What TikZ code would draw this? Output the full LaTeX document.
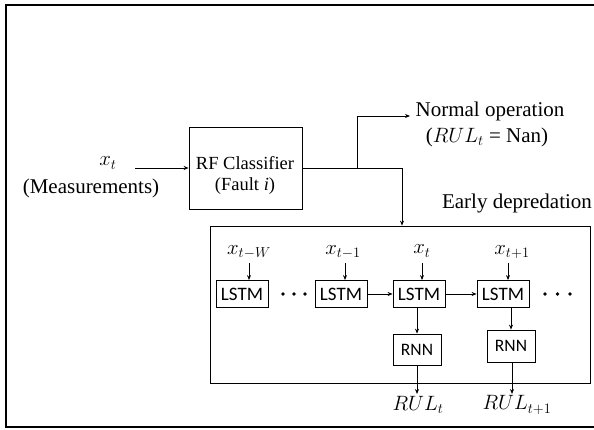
\documentclass[tikz,border=0pt]{standalone}
\usepackage{fontspec}
\setmainfont{Liberation Serif}
\newfontfamily\calib{Carlito}
\usetikzlibrary{arrows.meta}
\begin{document}
\begin{tikzpicture}[x=1pt,y=-1pt,
  lbl/.style={font=\fontsize{21}{24}\selectfont, inner sep=0pt},
  rft/.style={font=\fontsize{18.5}{21}\selectfont, inner sep=0pt},
  mlbl/.style={font=\fontsize{22}{24}\selectfont, inner sep=0pt},
  box/.style={draw, line width=0.8pt, inner sep=0pt},
  lstm/.style={box, minimum height=27pt, minimum width=52pt, font=\calib\fontsize{19}{20}\selectfont},
  rnn/.style={box, minimum width=48pt, font=\calib\fontsize{17.5}{18}\selectfont},
  conn/.style={line width=0.8pt, -{Stealth[length=5pt,width=4pt]}},
  line/.style={line width=0.8pt},
  dot/.style={fill, circle, inner sep=0pt, minimum size=3.6pt}
]
\useasboundingbox (0,0) rectangle (594,430);
% frame
\draw[line width=1.2pt] (594,5) -- (6,5) -- (6,427) -- (594,427);

% input
\node[mlbl] (xt) at (108,163) {$x_t$};
\node[lbl] (meas) at (91,188) {(Measurements)};
\coordinate (in) at (135,168);

% RF classifier
\node[box, minimum width=113pt, minimum height=82pt] (rf) at (245.5,168) {};
\node[rft] (rft1) at (245,163) {RF Classifier};
\node[rft] (rft2) at (245,186) {(Fault \textit{i})};
\draw[conn] (in) -- (rf.west |- in);

% branches
\coordinate (j1) at (357,168);
\coordinate (j2) at (402,168);
\coordinate (no) at (410,116);
\draw[line] (rf.east |- j1) -- (j2);
\draw[conn] (j1) |- (no);

\node[lbl] (norm) at (490,111) {Normal operation};
\node[lbl] (nan) at (487,137) {($RUL_t$ = Nan)};
\node[lbl] (early) at (517,203) {Early depredation};

% inner box
\node[box, minimum width=380pt, minimum height=157pt] (inner) at (400,304.5) {};
\draw[conn] (j2) -- (j2 |- inner.north);

% LSTM row
\node[lstm] (l1) at (242,294) {LSTM};
\node[lstm] (l2) at (341,294) {LSTM};
\node[lstm] (l3) at (419,294) {LSTM};
\node[lstm] (l4) at (503,294) {LSTM};

\node[dot] (d1) at (283,294) {};
\node[dot] (d2) at (294,294) {};
\node[dot] (d3) at (305,294) {};
\node[dot] (d4) at (545,294) {};
\node[dot] (d5) at (557.5,294) {};
\node[dot] (d6) at (570,294) {};

\draw[conn] (l2) -- (l3);
\draw[conn] (l3) -- (l4);

% inputs
\node[mlbl] (x1) at (249,252) {$x_{t-W}$};
\node[mlbl] (x2) at (343,252) {$x_{t-1}$};
\node[mlbl] (x3) at (422,251) {$x_{t}$};
\node[mlbl] (x4) at (512,252) {$x_{t+1}$};
\coordinate (a1) at (249,263);
\coordinate (a2) at (345,263);
\coordinate (a3) at (422,263);
\coordinate (a4) at (508,263);
\draw[conn] (a1) -- (a1 |- l1.north);
\draw[conn] (a2) -- (a2 |- l2.north);
\draw[conn] (a3) -- (a3 |- l3.north);
\draw[conn] (a4) -- (a4 |- l4.north);

% RNN
\node[rnn, minimum height=31pt] (r1) at (417,349.5) {RNN};
\node[rnn, minimum height=32pt] (r2) at (511,346) {RNN};
\draw[conn] (r1.north |- l3.south) -- (r1.north);
\draw[conn] (r2.north |- l4.south) -- (r2.north);

% outputs
\node[mlbl] (o1) at (418,405) {$RUL_t$};
\node[mlbl] (o2) at (517,405) {$RUL_{t+1}$};
\coordinate (b1) at (417,394);
\coordinate (b2) at (512,394);
\draw[conn] (r1.south) -- (b1);
\draw[conn] (r2.south -| b2) -- (b2);
\end{tikzpicture}
\end{document}
